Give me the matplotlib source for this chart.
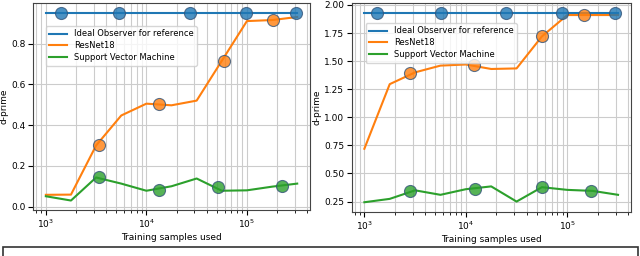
import numpy as np
import matplotlib
matplotlib.use("Agg")
import matplotlib.pyplot as plt
from matplotlib.patches import Rectangle

# training set sizes (quarter decades from 1e3 to ~3e5)
samples = [1000, 1778, 3162, 5623, 10000, 17783, 31623, 56234, 100000, 177828, 316228]

# left panel
left_ideal = [0.951] * 11
left_resnet = [0.058, 0.059, 0.30, 0.447, 0.505, 0.497, 0.52, 0.715, 0.91, 0.915, 0.93]
left_svm = [0.051, 0.030, 0.143, 0.113, 0.078, 0.100, 0.138, 0.078, 0.080, 0.098, 0.113]
left_ideal_mk_x = [1410, 5330, 27200, 97700, 309000]
left_ideal_mk_y = [0.951, 0.951, 0.951, 0.951, 0.951]
left_resnet_mk_x = [3340, 13400, 58900, 180000]
left_resnet_mk_y = [0.302, 0.503, 0.715, 0.915]
left_svm_mk_x = [3340, 13400, 51900, 221000]
left_svm_mk_y = [0.143, 0.082, 0.097, 0.102]

# right panel
right_ideal = [1.93] * 11
right_resnet = [0.72, 1.295, 1.40, 1.46, 1.47, 1.43, 1.435, 1.72, 1.91, 1.91, 1.91]
right_svm = [0.244, 0.274, 0.35, 0.31, 0.36, 0.385, 0.25, 0.378, 0.354, 0.345, 0.31]
right_ideal_mk_x = [1340, 5650, 24900, 87900, 295000]
right_ideal_mk_y = [1.93, 1.93, 1.93, 1.93, 1.93]
right_resnet_mk_x = [2810, 12000, 56000, 145000]
right_resnet_mk_y = [1.39, 1.464, 1.723, 1.91]
right_svm_mk_x = [2800, 12300, 56000, 170000]
right_svm_mk_y = [0.348, 0.363, 0.378, 0.345]

labels = ["Ideal Observer for reference", "ResNet18", "Support Vector Machine"]

plt.rcParams['font.size'] = 6.5

fig = plt.figure(figsize=(6.4, 2.56), dpi=100)
ax1 = fig.add_axes([0.052, 0.180, 0.432, 0.807])
ax2 = fig.add_axes([0.5495, 0.173, 0.436, 0.814])


def draw(ax, lines, markers, legend_anchor):
    for i, (y, lab) in enumerate(zip(lines, labels)):
        ax.plot(samples, y, color=f"C{i}", lw=1.5, label=lab, zorder=2)
    for i, (mx, my) in enumerate(markers):
        ax.scatter(mx, my, s=75, color=f"C{i}", alpha=0.8,
                   edgecolors="#34557a", linewidths=0.8, zorder=3)
    ax.set_xscale("log")
    ax.grid(True, which="both", color="#cccccc", lw=0.8)
    ax.set_axisbelow(True)
    ax.set_xlabel("Training samples used", labelpad=2)
    ax.set_ylabel("d-prime", labelpad=2)
    ax.tick_params(labelsize=6.5, pad=2)
    for sp in ax.spines.values():
        sp.set_color("#444444")
    ax.legend(loc="upper left", bbox_to_anchor=legend_anchor, fontsize=6,
              handlelength=2.2, borderpad=0.4, labelspacing=0.35)


draw(ax1, [left_ideal, left_resnet, left_svm],
     [(left_ideal_mk_x, left_ideal_mk_y), (left_resnet_mk_x, left_resnet_mk_y),
      (left_svm_mk_x, left_svm_mk_y)], (0.03, 0.91))
draw(ax2, [right_ideal, right_resnet, right_svm],
     [(right_ideal_mk_x, right_ideal_mk_y), (right_resnet_mk_x, right_resnet_mk_y),
      (right_svm_mk_x, right_svm_mk_y)], (0.035, 0.925))

# empty caption box at the bottom
fig.patches.append(Rectangle((0.004, -0.1), 0.993, 0.136, transform=fig.transFigure,
                             fill=False, edgecolor="#333333", lw=1.2))

fig.savefig("out.png", dpi=100)
